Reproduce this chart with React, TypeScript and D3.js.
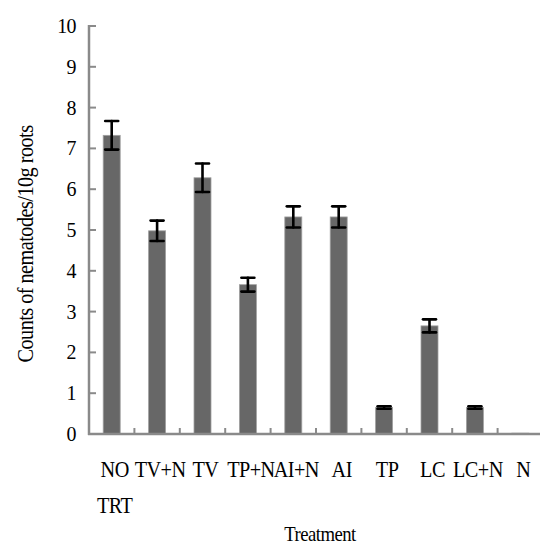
import * as d3 from "d3";

const categories = ["NO TRT", "TV+N", "TV", "TP+N", "AI+N", "AI", "TP", "LC", "LC+N", "N"];
const means = [7.32, 4.98, 6.28, 3.66, 5.32, 5.32, 0.65, 2.65, 0.65, 0.02];
const errors = [0.35, 0.25, 0.35, 0.17, 0.26, 0.26, 0.03, 0.16, 0.03, 0];
const yTicks = [0, 1, 2, 3, 4, 5, 6, 7, 8, 9, 10];

const W = 540;
const H = 546;
const margin = { top: 26, right: -3, bottom: 112, left: 89 };
const font = "Liberation Serif, Times New Roman, serif";
const axisColor = "#8a8a8a";

// condensed text, like the original's narrow Times
const CText = ({ x, y, size, sx, anchor = "middle", rotate = 0, children }) => (
	<text
		transform={`translate(${x},${y}) rotate(${rotate}) scale(${sx},1)`}
		textAnchor={anchor}
		fontSize={size}
		letterSpacing={-0.6}
		style={{ fontFamily: font }}
		fill="#000"
	>
		{children}
	</text>
);

const App = () => {
	const x = d3
		.scaleBand()
		.domain(categories)
		.range([margin.left, W - margin.right])
		.paddingInner(0)
		.paddingOuter(0);
	const y = d3
		.scaleLinear()
		.domain([0, 10])
		.range([H - margin.bottom, margin.top]);
	const barW = 17;
	const y0 = y(0);

	return (
		<svg
			width={W}
			height={H}
			style={{ position: "absolute", left: 0, top: 0, background: "#fff", fontFamily: font }}
		>
			{/* bars */}
			{categories.map((c, i) => {
				const cx = x(c) + x.bandwidth() / 2;
				return (
					<rect
						key={c}
						x={cx - barW / 2}
						y={y(means[i])}
						width={barW}
						height={y0 - y(means[i])}
						fill="#676767"
						stroke="#a0a0a0"
						strokeWidth={0.8}
					/>
				);
			})}
			{/* error bars */}
			{categories.map((c, i) => {
				if (!errors[i]) return null;
				const cx = x(c) + x.bandwidth() / 2;
				const hi = y(means[i] + errors[i]);
				const lo = y(means[i] - errors[i]);
				return (
					<g key={c} stroke="#000" strokeWidth={2.6} strokeLinecap="round">
						<line x1={cx} x2={cx} y1={hi} y2={lo} />
						<line x1={cx - 6.5} x2={cx + 6.5} y1={hi} y2={hi} />
						<line x1={cx - 6.5} x2={cx + 6.5} y1={lo} y2={lo} />
					</g>
				);
			})}
			{/* y axis */}
			<line x1={margin.left} x2={margin.left} y1={y(10) - 1} y2={y0 + 1} stroke={axisColor} strokeWidth={2.5} />
			{yTicks.map((t) => (
				<g key={t}>
					<line x1={margin.left} x2={margin.left + 7} y1={y(t)} y2={y(t)} stroke={axisColor} strokeWidth={2} />
					<CText x={76} y={y(t) + 7} size={21} sx={0.95} anchor="end">
						{t}
					</CText>
				</g>
			))}
			{/* x axis */}
			<line x1={margin.left - 1} x2={W} y1={y0} y2={y0} stroke={axisColor} strokeWidth={2.5} />
			{categories.slice(1).map((c) => (
				<line key={c} x1={x(c)} x2={x(c)} y1={y0} y2={y0 - 6} stroke={axisColor} strokeWidth={2} />
			))}
			{categories.map((c) => {
				const cx = x(c) + x.bandwidth() / 2 + 3;
				const parts = c === "NO TRT" ? ["NO", "TRT"] : [c];
				return parts.map((p, j) => (
					<CText key={c + p} x={cx} y={477 + j * 36} size={23} sx={0.88}>
						{p}
					</CText>
				));
			})}
			<CText x={320} y={541} size={22} sx={0.85}>
				Treatment
			</CText>
			<CText x={33} y={244} size={23} sx={0.88} rotate={-90}>
				Counts of nematodes/10g roots
			</CText>
		</svg>
	);
};

export default App;
